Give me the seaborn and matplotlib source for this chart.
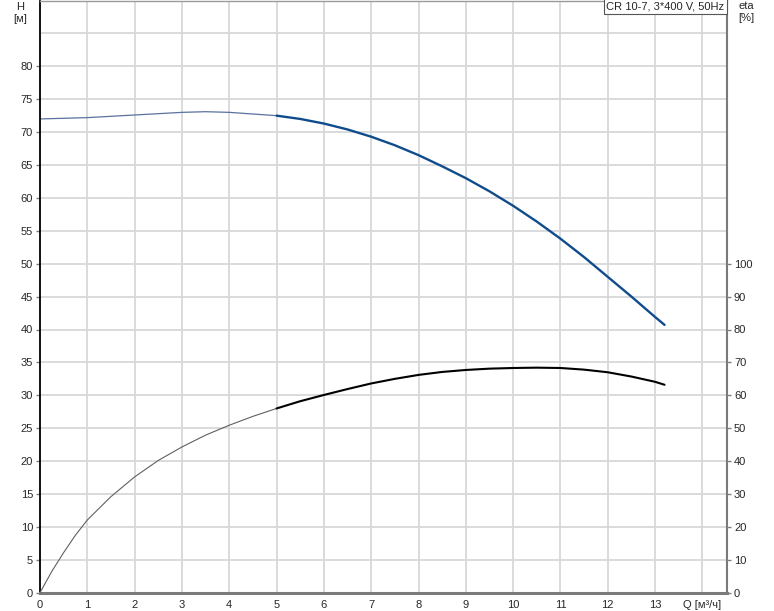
import numpy as np
import pandas as pd
import seaborn as sns
import matplotlib.pyplot as plt

# Pump curve values
q_h = [0, 1, 2, 3, 3.5, 4, 5, 5.5, 6, 6.5, 7, 7.5, 8, 8.5, 9, 9.5, 10, 10.5,
       11, 11.5, 12, 12.5, 13, 13.2]
head = [72.0, 72.2, 72.6, 73.0, 73.1, 73.0, 72.5, 72.0, 71.3, 70.4, 69.3, 68.0,
        66.5, 64.8, 63.0, 61.0, 58.8, 56.4, 53.8, 51.0, 48.0, 45.0, 41.9, 40.7]

q_eta = [0, 0.25, 0.5, 0.75, 1, 1.5, 2, 2.5, 3, 3.5, 4, 4.5, 5, 5.5, 6, 6.5, 7, 7.5,
         8, 8.5, 9, 9.5, 10, 10.5, 11, 11.5, 12, 12.5, 13, 13.2]
eta = [0, 6.5, 12.2, 17.5, 22.1, 29.2, 35.2, 40.2, 44.3, 47.9, 50.9, 53.6, 56.0,
       58.2, 60.1, 61.9, 63.6, 65.0, 66.2, 67.1, 67.7, 68.1, 68.3, 68.4, 68.3,
       67.8, 67.0, 65.7, 64.1, 63.2]

x_ticks = list(range(0, 15))
x_labels = [str(t) for t in range(0, 14)] + ['Q [м³/ч]']
h_ticks = list(range(0, 85, 5))
eta_ticks = list(range(0, 110, 10))
title = 'CR 10-7, 3*400 V, 50Hz'

df_h = pd.DataFrame({'Q': q_h, 'H': head})
df_e = pd.DataFrame({'Q': q_eta, 'eta': eta})

sns.set_style('whitegrid')
plt.rcParams['font.family'] = ['Liberation Sans', 'DejaVu Sans']
plt.rcParams['font.size'] = 8

fig = plt.figure(figsize=(7.74, 6.11), dpi=100)
ax = fig.add_axes([40 / 774, 18.3 / 611, 687 / 774, 592.2 / 611])

blue = '#104c8c'
# thin part below Q=5, thick part from Q=5
sns.lineplot(data=df_h[df_h.Q <= 5], x='Q', y='H', ax=ax, color='#5a72a0', lw=0.9)
sns.lineplot(data=df_h[df_h.Q >= 5], x='Q', y='H', ax=ax, color=blue, lw=1.7)

ax.set_xlim(0, 14.52)
ax.set_ylim(0, 90)
ax.set_xticks(x_ticks)
ax.set_xticklabels(x_labels)
ax.set_yticks(h_ticks)
ax.set_yticks(list(range(0, 95, 5)), minor=True)
ax.grid(False)
ax.grid(True, which='both', axis='y', color='#d6d8da', lw=1.3)
ax.grid(True, which='major', axis='x', color='#d6d8da', lw=1.3)
ax.set_xlabel('')
ax.set_ylabel('')
ax.tick_params(axis='x', length=3, width=1, color='#808080', pad=2, labelsize=8)
ax.tick_params(axis='y', which='major', length=3, width=1, color='#808080', pad=2, labelsize=8)
ax.tick_params(axis='y', which='minor', length=0)

ax.spines['left'].set_color('black')
ax.spines['left'].set_linewidth(1.3)
ax.spines['bottom'].set_color('#7a7a7a')
ax.spines['bottom'].set_linewidth(2.2)
ax.spines['right'].set_color('#7a7a7a')
ax.spines['right'].set_linewidth(1.5)
ax.spines['top'].set_color('#9a9a9a')
ax.spines['top'].set_linewidth(1)

ax2 = ax.twinx()
sns.lineplot(data=df_e[df_e.Q <= 5], x='Q', y='eta', ax=ax2, color='#606060', lw=0.8)
sns.lineplot(data=df_e[df_e.Q >= 5], x='Q', y='eta', ax=ax2, color='black', lw=1.5)
ax2.set_ylim(0, 180)
ax2.set_yticks(eta_ticks)
ax2.grid(False)
ax2.set_ylabel('')
ax2.tick_params(axis='y', length=3, width=1, color='#808080', pad=2, labelsize=8)
for s in ax2.spines.values():
    s.set_visible(False)

ax.text(0.9965, 0.999, title, transform=ax.transAxes, ha='right', va='top', fontsize=8,
        bbox=dict(boxstyle='square,pad=0.25', fc='white', ec='#555555', lw=0.8), zorder=10)

fig.text(20 / 774, 1 - 13 / 611, 'H\n[м]', ha='center', va='center', fontsize=8, linespacing=1.35)
fig.text(746 / 774, 1 - 12 / 611, 'eta\n[%]', ha='center', va='center', fontsize=8, linespacing=1.35)

fig.savefig('out.png', dpi=100)
